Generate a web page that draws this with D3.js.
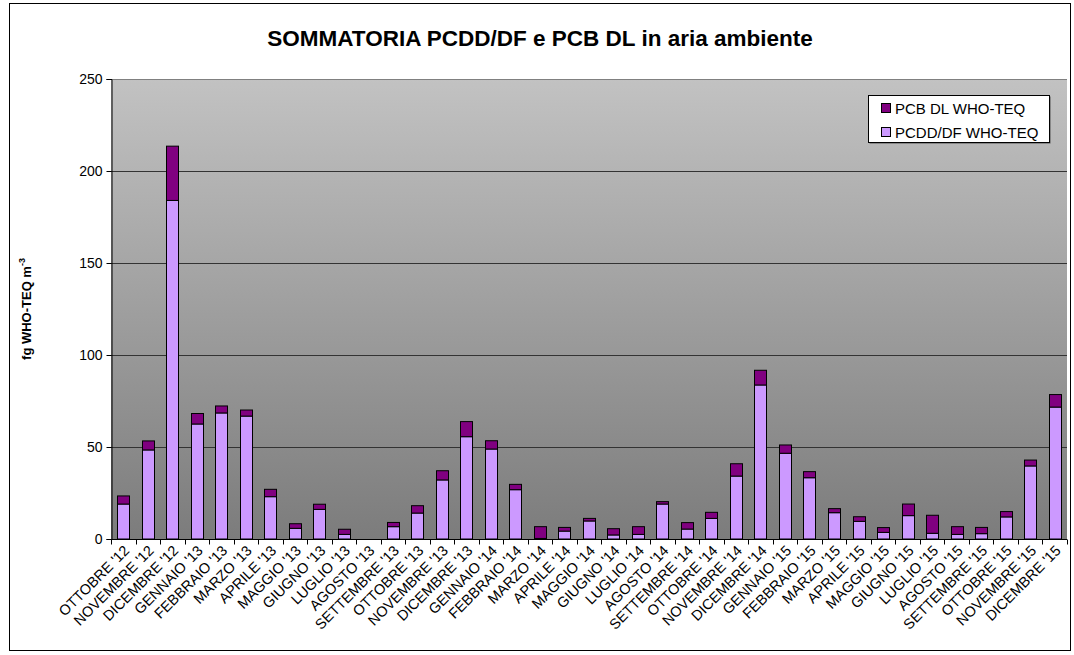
<!DOCTYPE html>
<html>
<head>
<meta charset="utf-8">
<script src="https://cdn.jsdelivr.net/npm/d3@7"></script>
<style>
  body { margin: 0; background: #fff; }
  text { font-family: "Liberation Sans", Arial, sans-serif; }
</style>
</head>
<body>
<div id="chart"></div>
<script>
/* DATA */
const months = [
  "OTTOBRE '12", "NOVEMBRE '12", "DICEMBRE '12",
  "GENNAIO '13", "FEBBRAIO '13", "MARZO '13", "APRILE '13", "MAGGIO '13", "GIUGNO '13",
  "LUGLIO '13", "AGOSTO '13", "SETTEMBRE '13", "OTTOBRE '13", "NOVEMBRE '13", "DICEMBRE '13",
  "GENNAIO '14", "FEBBRAIO '14", "MARZO '14", "APRILE '14", "MAGGIO '14", "GIUGNO '14",
  "LUGLIO '14", "AGOSTO '14", "SETTEMBRE '14", "OTTOBRE '14", "NOVEMBRE '14", "DICEMBRE '14",
  "GENNAIO '15", "FEBBRAIO '15", "MARZO '15", "APRILE '15", "MAGGIO '15", "GIUGNO '15",
  "LUGLIO '15", "AGOSTO '15", "SETTEMBRE '15", "OTTOBRE '15", "NOVEMBRE '15", "DICEMBRE '15"
];
const pcdd = [
  19, 48.4, 184,
  62.5, 68.5, 66.8, 23, 5.8, 16.1,
  2.5, 0, 6.7, 14.1, 32.1, 55.6,
  48.9, 26.8, 0.3, 4.3, 9.8, 2.2,
  2.5, 19, 5.4, 11.2, 34.2, 83.7,
  46.6, 33.3, 14.3, 9.6, 3.6, 12.7,
  3.1, 2.5, 2.9, 12, 39.7, 71.7
];
const pcb = [
  4.4, 4.9, 29.5,
  5.7, 3.8, 3.3, 4, 2.5, 2.8,
  2.8, 0, 2.3, 4, 5, 8.2,
  4.5, 2.9, 6.4, 2, 1.4, 3.4,
  4.2, 1.3, 3.5, 3.3, 6.7, 8,
  4.5, 3.3, 2.2, 2.5, 2.6, 6.3,
  9.8, 4.2, 3.4, 2.9, 3.2, 6.8
];
const seriesNames = ["PCB DL WHO-TEQ", "PCDD/DF WHO-TEQ"];
const seriesColors = ["#800080", "#cc99ff"];
const yTicks = [0, 50, 100, 150, 200, 250];

/* LAYOUT */
const width = 1074, height = 655;
const margin = { top: 79, bottom: 116, left: 111, right: 7 };

const svg = d3.select("#chart").append("svg")
  .attr("width", width)
  .attr("height", height);

// outer frame
svg.append("rect")
  .attr("x", 9.5).attr("y", 3.5)
  .attr("width", 1061).attr("height", 647)
  .attr("fill", "#fff")
  .attr("stroke", "#000");

// gradient for plot area
const defs = svg.append("defs");
const grad = defs.append("linearGradient")
  .attr("id", "bg").attr("x1", 0).attr("y1", 0).attr("x2", 0).attr("y2", 1);
grad.append("stop").attr("offset", "0%").attr("stop-color", "#c2c2c2");
grad.append("stop").attr("offset", "100%").attr("stop-color", "#7c7c7c");

const xScale = d3.scaleBand()
  .domain(months)
  .range([margin.left, width - margin.right])
  .paddingInner(0.5)
  .paddingOuter(0.25);

const yScale = d3.scaleLinear()
  .domain([0, 250])
  .range([height - margin.bottom, margin.top]);

svg.append("rect")
  .attr("x", margin.left)
  .attr("y", margin.top)
  .attr("width", width - margin.right - margin.left)
  .attr("height", yScale(0) - margin.top)
  .attr("fill", "url(#bg)");

// gridlines
svg.append("g")
  .selectAll("line")
  .data(yTicks.slice(1))
  .join("line")
  .attr("x1", margin.left)
  .attr("x2", width - margin.right)
  .attr("y1", d => Math.round(yScale(d)) + 0.5)
  .attr("y2", d => Math.round(yScale(d)) + 0.5)
  .attr("stroke", d => d === 250 ? "#808080" : "#333")
  .attr("stroke-width", 1);

// title
svg.append("text")
  .attr("x", 540)
  .attr("y", 46)
  .attr("text-anchor", "middle")
  .attr("font-size", 22.5)
  .attr("font-weight", "bold")
  .text("SOMMATORIA PCDD/DF e PCB DL in aria ambiente");

// stacked bars
const stackData = months.map((m, i) => ({ month: m, pcdd: pcdd[i], pcb: pcb[i] }));
const stack = d3.stack().keys(["pcdd", "pcb"])(stackData);
const colorOf = { pcdd: seriesColors[1], pcb: seriesColors[0] };

svg.append("g")
  .selectAll("g")
  .data(stack)
  .join("g")
  .attr("fill", d => colorOf[d.key])
  .selectAll("rect")
  .data(d => d.filter(s => s[1] - s[0] > 0))
  .join("rect")
  .attr("x", d => Math.round(xScale(d.data.month)) + 0.5)
  .attr("y", d => yScale(d[1]))
  .attr("width", Math.round(xScale.bandwidth()))
  .attr("height", d => yScale(d[0]) - yScale(d[1]))
  .attr("stroke", "#000")
  .attr("stroke-width", 1);

// y axis
const yAxis = d3.axisLeft(yScale).tickValues(yTicks).tickSize(5).tickPadding(4);
const gy = svg.append("g")
  .attr("transform", `translate(${margin.left + 0.5},0)`)
  .call(yAxis);
gy.select(".domain").attr("stroke", "#000");
gy.selectAll("text").attr("font-size", 14).attr("fill", "#000")
  .style("font-family", "'Liberation Sans', Arial, sans-serif");

// x axis: ticks between categories
const xAxisY = Math.round(yScale(0)) + 0.5;
svg.append("line")
  .attr("x1", margin.left).attr("x2", width - margin.right)
  .attr("y1", xAxisY).attr("y2", xAxisY)
  .attr("stroke", "#000");
const step = xScale.step();
svg.append("g")
  .selectAll("line")
  .data(d3.range(months.length + 1))
  .join("line")
  .attr("x1", i => Math.round(margin.left + i * step) + 0.5)
  .attr("x2", i => Math.round(margin.left + i * step) + 0.5)
  .attr("y1", xAxisY)
  .attr("y2", xAxisY + 5)
  .attr("stroke", "#000");

svg.append("g")
  .selectAll("text")
  .data(months)
  .join("text")
  .attr("transform", d => `translate(${xScale(d) + xScale.bandwidth() / 2 + 7},${xAxisY + 12}) rotate(-45)`)
  .attr("text-anchor", "end")
  .attr("font-size", 14.5)
  .text(d => d);

// y axis label
const yl = svg.append("text")
  .attr("transform", `translate(31,${(margin.top + yScale(0)) / 2}) rotate(-90)`)
  .attr("text-anchor", "middle")
  .attr("font-size", 13)
  .attr("font-weight", "bold");
yl.append("tspan").text("fg WHO-TEQ m");
yl.append("tspan").attr("dy", -6).attr("font-size", 9).text("-3");

// legend
const legend = svg.append("g").attr("transform", "translate(868,95)");
legend.append("rect")
  .attr("x", 1.5).attr("y", 1.5)
  .attr("width", 181).attr("height", 47)
  .attr("fill", "#555");
legend.append("rect")
  .attr("x", 0.5).attr("y", 0.5)
  .attr("width", 181).attr("height", 47)
  .attr("fill", "#fff")
  .attr("stroke", "#000");
const items = legend.selectAll("g.item")
  .data(seriesNames)
  .join("g")
  .attr("class", "item")
  .attr("transform", (d, i) => `translate(13,${13 + i * 24})`);
items.append("rect")
  .attr("x", 0.5).attr("y", -4.5)
  .attr("width", 9).attr("height", 9)
  .attr("fill", (d, i) => seriesColors[i])
  .attr("stroke", "#000");
items.append("text")
  .attr("x", 14)
  .attr("y", 5.5)
  .attr("font-size", 15)
  .text(d => d);
</script>
</body>
</html>
